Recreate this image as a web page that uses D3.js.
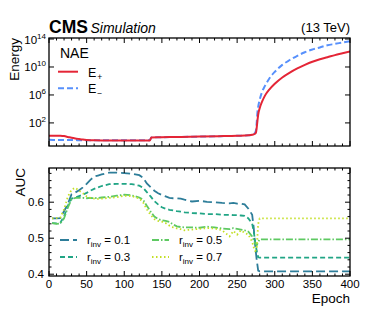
<!DOCTYPE html>
<html>
<head>
<meta charset="utf-8">
<script src="https://cdn.jsdelivr.net/npm/d3@7"></script>
<style>
  body { margin: 0; background: #fff; }
  svg { font-family: "Liberation Sans", Arial, sans-serif; }
</style>
</head>
<body>
<div id="chart"></div>
<script>
// ---- data ----
var energyEpochs = [0, 10, 15, 20, 25, 30, 35, 40, 45, 50, 60, 80, 100, 120, 134, 136, 150, 175, 200, 225, 250, 265, 270, 273, 275, 276, 277, 278, 280, 283, 287, 293, 300, 310, 320, 330, 340, 350, 360, 370, 380, 390, 400];
var ePlus  = [1.5, 1.5, 1.45, 1.3, 1.0, 0.75, 0.6, 0.5, 0.42, 0.37, 0.32, 0.3, 0.3, 0.3, 0.3, 0.85, 0.9, 1.0, 1.1, 1.25, 1.45, 1.7, 2.0, 2.6, 4, 20, 200, 1.6e3, 1.3e4, 1e5, 8e5, 6.3e6, 4e7, 3.2e8, 1.6e9, 6.3e9, 2e10, 5.6e10, 1.3e11, 2.5e11, 5e11, 9e11, 1.6e12];
var eMinus = [0.38, 0.37, 0.36, 0.36, 0.35, 0.35, 0.35, 0.34, 0.34, 0.34, 0.33, 0.32, 0.32, 0.32, 0.32, 0.85, 0.9, 1.0, 1.1, 1.25, 1.45, 1.7, 2.0, 3.0, 8, 100, 3.2e3, 2e4, 2e5, 2.5e6, 2e7, 2.5e8, 2e9, 2e10, 1e11, 4e11, 1.3e12, 3.2e12, 6.3e12, 1.3e13, 2e13, 3.2e13, 5e13];

var aucEpochs = [4, 10, 15, 20, 25, 30, 35, 40, 45, 50, 55, 60, 65, 70, 80, 90, 100, 110, 120, 125, 130, 135, 140, 145, 150, 155, 160, 165, 170, 175, 180, 190, 200, 210, 220, 230, 240, 245, 250, 255, 260, 265, 270, 272, 274, 276, 278, 280, 290, 400];
var auc01 = [0.555, 0.555, 0.556, 0.575, 0.595, 0.622, 0.627, 0.633, 0.641, 0.651, 0.662, 0.671, 0.674, 0.677, 0.682, 0.682, 0.681, 0.679, 0.675, 0.668, 0.652, 0.642, 0.632, 0.625, 0.62, 0.616, 0.612, 0.611, 0.611, 0.61, 0.607, 0.602, 0.604, 0.601, 0.600, 0.598, 0.597, 0.598, 0.596, 0.596, 0.594, 0.582, 0.565, 0.53, 0.48, 0.44, 0.41, 0.408, 0.408, 0.408];
var auc03 = [0.542, 0.541, 0.543, 0.56, 0.59, 0.61, 0.613, 0.617, 0.621, 0.626, 0.632, 0.637, 0.641, 0.645, 0.65, 0.651, 0.651, 0.65, 0.646, 0.64, 0.628, 0.616, 0.603, 0.594, 0.586, 0.582, 0.579, 0.577, 0.575, 0.574, 0.572, 0.57, 0.569, 0.567, 0.567, 0.565, 0.565, 0.564, 0.564, 0.563, 0.562, 0.555, 0.54, 0.52, 0.49, 0.465, 0.447, 0.446, 0.446, 0.446];
var auc05 = [0.542, 0.54, 0.541, 0.555, 0.585, 0.608, 0.612, 0.612, 0.612, 0.611, 0.612, 0.611, 0.612, 0.613, 0.615, 0.618, 0.621, 0.619, 0.613, 0.607, 0.59, 0.574, 0.56, 0.553, 0.55, 0.548, 0.545, 0.538, 0.533, 0.531, 0.53, 0.53, 0.529, 0.532, 0.53, 0.527, 0.525, 0.528, 0.526, 0.524, 0.522, 0.518, 0.505, 0.495, 0.485, 0.48, 0.49, 0.497, 0.497, 0.497];
var auc07 = [0.555, 0.556, 0.557, 0.58, 0.615, 0.635, 0.64, 0.632, 0.625, 0.616, 0.612, 0.61, 0.609, 0.61, 0.612, 0.614, 0.618, 0.617, 0.61, 0.6, 0.58, 0.565, 0.553, 0.548, 0.546, 0.542, 0.535, 0.53, 0.527, 0.525, 0.522, 0.524, 0.526, 0.528, 0.527, 0.522, 0.505, 0.52, 0.51, 0.522, 0.515, 0.51, 0.49, 0.475, 0.465, 0.47, 0.54, 0.555, 0.555, 0.555];

var rinvLabels = ["0.1", "0.3", "0.5", "0.7"];
var xTicks = [0, 50, 100, 150, 200, 250, 300, 350, 400];
var energyTicks = [1e2, 1e6, 1e10, 1e14];
var aucTicks = [0.4, 0.5, 0.6];

// ---- layout ----
var W = 389, H = 311;
var left = 49, right = 350;
var top1 = 38, bot1 = 146, top2 = 168, bot2 = 276;

var svg = d3.select("#chart").append("svg")
    .attr("width", W).attr("height", H);

var x = d3.scaleLinear().domain([0, 400]).range([left, right]);
var yE = d3.scaleLog().domain([0.05, 1.4e14]).range([bot1, top1]);
var yA = d3.scaleLinear().domain([0.395, 0.695]).range([bot2, top2]);

var defs = svg.append("defs");
defs.append("clipPath").attr("id", "clip1").append("rect")
    .attr("x", left).attr("y", top1).attr("width", right - left).attr("height", bot1 - top1);
defs.append("clipPath").attr("id", "clip2").append("rect")
    .attr("x", left).attr("y", top2).attr("width", right - left).attr("height", bot2 - top2);

// ---- energy panel ----
var p1 = svg.append("g").attr("clip-path", "url(#clip1)");
var eLine = function(vals) {
  return d3.line()
    .curve(d3.curveMonotoneX)
    .x(function(d, i) { return x(energyEpochs[i]); })
    .y(function(d) { return yE(d); })(vals);
};
p1.append("path").attr("d", eLine(eMinus))
    .attr("fill", "none").attr("stroke", "#5790fc").attr("stroke-width", 2)
    .attr("stroke-dasharray", "6,3");
p1.append("path").attr("d", eLine(ePlus))
    .attr("fill", "none").attr("stroke", "#e42536").attr("stroke-width", 2);

// ---- AUC panel ----
var p2 = svg.append("g").attr("clip-path", "url(#clip2)");
var aucSeries = [
  {vals: auc01, color: "#2d7d99", dash: "9,4"},
  {vals: auc03, color: "#21a585", dash: "5,3"},
  {vals: auc05, color: "#5ec962", dash: "7,2,1.5,2"},
  {vals: auc07, color: "#c3df25", dash: "1.5,2.5"}
];
var aLine = d3.line()
    .x(function(d, i) { return x(aucEpochs[i]); })
    .y(function(d) { return yA(d); });
aucSeries.forEach(function(s) {
  p2.append("path").attr("d", aLine(s.vals))
      .attr("fill", "none").attr("stroke", s.color).attr("stroke-width", 1.8)
      .attr("stroke-dasharray", s.dash);
});

// ---- frames and ticks (inward, all sides) ----
function frame(top, bot, yScale, yMajor, yMinor) {
  var g = svg.append("g").attr("stroke", "#000").attr("stroke-width", 1);
  d3.range(0, 401, 10).forEach(function(v) {
    var len = (v % 50 === 0) ? 5 : 2.5;
    g.append("line").attr("x1", x(v)).attr("x2", x(v)).attr("y1", bot).attr("y2", bot - len);
    g.append("line").attr("x1", x(v)).attr("x2", x(v)).attr("y1", top).attr("y2", top + len);
  });
  yMajor.forEach(function(v) {
    g.append("line").attr("x1", left).attr("x2", left + 5).attr("y1", yScale(v)).attr("y2", yScale(v));
    g.append("line").attr("x1", right).attr("x2", right - 5).attr("y1", yScale(v)).attr("y2", yScale(v));
  });
  yMinor.forEach(function(v) {
    g.append("line").attr("x1", left).attr("x2", left + 2.5).attr("y1", yScale(v)).attr("y2", yScale(v));
    g.append("line").attr("x1", right).attr("x2", right - 2.5).attr("y1", yScale(v)).attr("y2", yScale(v));
  });
  svg.append("rect").attr("x", left).attr("y", top).attr("width", right - left).attr("height", bot - top)
      .attr("fill", "none").attr("stroke", "#000").attr("stroke-width", 1.3);
}
frame(top1, bot1, yE, energyTicks, []);
var aucMinor = d3.range(0.40, 0.695, 0.02).filter(function(v) {
  return aucTicks.every(function(t) { return Math.abs(t - v) > 0.001; });
});
frame(top2, bot2, yA, aucTicks, aucMinor);

// ---- tick labels ----
var tl = svg.append("g").attr("font-size", 11.5).attr("fill", "#000");
xTicks.forEach(function(v) {
  tl.append("text").attr("x", x(v)).attr("y", 288).attr("text-anchor", "middle").text(v);
});
aucTicks.forEach(function(v) {
  tl.append("text").attr("x", 44).attr("y", yA(v) + 4).attr("text-anchor", "end").text(d3.format(".1f")(v));
});
energyTicks.forEach(function(v) {
  var t = tl.append("text").attr("x", 46).attr("y", yE(v) + 4.5).attr("text-anchor", "end");
  t.append("tspan").text("10");
  t.append("tspan").attr("dy", -5).attr("font-size", 8).text(Math.round(Math.log10(v)));
});

// ---- axis labels ----
svg.append("text").attr("transform", "translate(18.5," + top1 + ") rotate(-90)")
    .attr("text-anchor", "end").attr("font-size", 13.5).text("Energy");
svg.append("text").attr("transform", "translate(25," + top2 + ") rotate(-90)")
    .attr("text-anchor", "end").attr("font-size", 13.5).text("AUC");
svg.append("text").attr("x", right).attr("y", 303).attr("text-anchor", "end")
    .attr("font-size", 13.5).text("Epoch");

// ---- header ----
svg.append("text").attr("x", 49).attr("y", 32.5).attr("font-size", 17.5).attr("font-weight", "bold").text("CMS");
svg.append("text").attr("x", 90.5).attr("y", 32.5).attr("font-size", 14).attr("font-style", "italic").text("Simulation");
svg.append("text").attr("x", right).attr("y", 32).attr("font-size", 13).attr("text-anchor", "end").text("(13 TeV)");

// ---- energy legend ----
var lg1 = svg.append("g");
lg1.append("text").attr("x", 60).attr("y", 58).attr("font-size", 14).text("NAE");
lg1.append("line").attr("x1", 58).attr("x2", 78).attr("y1", 71.7).attr("y2", 71.7)
    .attr("stroke", "#e42536").attr("stroke-width", 2);
lg1.append("line").attr("x1", 58).attr("x2", 78).attr("y1", 88.3).attr("y2", 88.3)
    .attr("stroke", "#5790fc").attr("stroke-width", 2).attr("stroke-dasharray", "6,3");
[["+", 76.5], ["\u2212", 93]].forEach(function(d) {
  var t = lg1.append("text").attr("x", 88).attr("y", d[1]).attr("font-size", 12.5);
  t.append("tspan").text("E");
  t.append("tspan").attr("dy", 3).attr("font-size", 8.5).attr("dx", 1).text(d[0]);
});

// ---- AUC legend ----
var lg2 = svg.append("g");
var legPos = [[60, 240], [60, 257], [152, 240], [152, 257]];
aucSeries.forEach(function(s, i) {
  var p = legPos[i];
  lg2.append("line").attr("x1", p[0]).attr("x2", p[0] + 17).attr("y1", p[1]).attr("y2", p[1])
      .attr("stroke", s.color).attr("stroke-width", 1.8).attr("stroke-dasharray", s.dash);
  var t = lg2.append("text").attr("x", p[0] + 27).attr("y", p[1] + 4).attr("font-size", 11.5);
  t.append("tspan").text("r");
  t.append("tspan").attr("dy", 2.5).attr("font-size", 8).text("inv");
  t.append("tspan").attr("dy", -2.5).text(" = " + rinvLabels[i]);
});
</script>
</body>
</html>
